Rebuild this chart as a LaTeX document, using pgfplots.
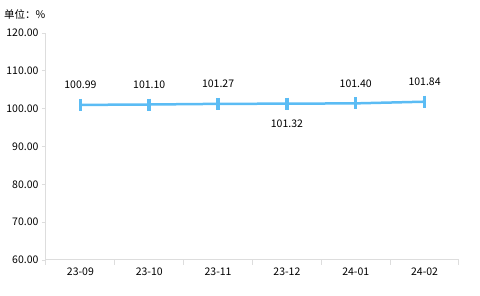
\documentclass[border=0pt]{standalone}
\usepackage{pgfplots}
\pgfplotsset{compat=1.18}
\usepackage{fontspec}
\setmainfont{Noto Sans CJK SC}
\definecolor{ln}{HTML}{5BBCF4}
\definecolor{ax}{HTML}{DDDDDD}
\begin{document}
\begin{tikzpicture}[x=1pt,y=1pt]
\path[use as bounding box] (0,0) rectangle (480,296);
\node[anchor=west,font=\fontsize{10.5}{12}\selectfont,inner sep=0pt] at (4,282) {单位：\%};
\begin{axis}[
  at={(46pt,36pt)}, anchor=south west,
  scale only axis, width=413pt, height=227pt,
  xmin=-0.5, xmax=5.5, ymin=60, ymax=120,
  xtick={0,...,5},
  xticklabels={23-09,23-10,23-11,23-12,24-01,24-02},
  minor xtick={-0.5,0.5,...,5.5},
  major x tick style={draw=none},
  minor x tick style={draw=ax, line width=1pt},
  minor tick length=5pt,
  ytick={60,70,...,120},
  y tick style={draw=ax, line width=0.8pt},
  major tick length=4pt,
  tick align=outside,
  yticklabel style={/pgf/number format/.cd, fixed, fixed zerofill, precision=2},
  /pgf/number format/assume math mode=true,
  tick label style={font=\fontsize{10.5}{12}\selectfont, text=black},
  axis x line*=bottom, axis y line*=left,
  x axis line style={draw=ax, line width=1pt, -},
  y axis line style={draw=ax, line width=1pt, -},
  clip=false,
]
\addplot[color=ln, line width=2.5pt, mark=|, mark size=6pt, mark options={line width=3.5pt}]
  coordinates {(0,100.99) (1,101.10) (2,101.27) (3,101.32) (4,101.40) (5,101.84)};
\addplot[draw=none, nodes near coords, point meta=explicit symbolic,
  nodes near coords style={font=\fontsize{10.5}{12}\selectfont, anchor=center, yshift=20pt}]
  coordinates {(0,100.99)[100.99] (1,101.10)[101.10] (2,101.27)[101.27] (4,101.40)[101.40] (5,101.84)[101.84]};
\addplot[draw=none, nodes near coords, point meta=explicit symbolic,
  nodes near coords style={font=\fontsize{10.5}{12}\selectfont, anchor=center, yshift=-20pt}]
  coordinates {(3,101.32)[101.32]};
\end{axis}
\end{tikzpicture}
\end{document}
